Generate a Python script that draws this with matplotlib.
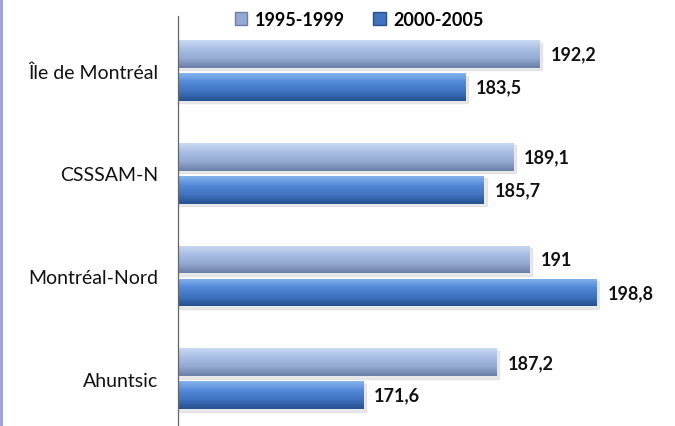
import numpy as np
import matplotlib.pyplot as plt
from matplotlib.patches import Patch
from matplotlib.colors import LinearSegmentedColormap
from matplotlib.lines import Line2D

categories = ["Île de Montréal", "CSSSAM-N", "Montréal-Nord", "Ahuntsic"]
series_names = ["1995-1999", "2000-2005"]
values_1995 = [192.2, 189.1, 191.0, 187.2]
values_2000 = [183.5, 185.7, 198.8, 171.6]
value_labels_1995 = ["192,2", "189,1", "191", "187,2"]
value_labels_2000 = ["183,5", "185,7", "198,8", "171,6"]

plt.rcParams['font.family'] = ['Lato', 'DejaVu Sans']

grad_light = LinearSegmentedColormap.from_list(
    "light", ["#6b7fa8", "#93a9d2", "#a9bee4", "#c9d9f3"])
grad_dark = LinearSegmentedColormap.from_list(
    "dark", ["#27518f", "#3f73c0", "#5289d8", "#86b4ee"])

fig = plt.figure(figsize=(6.75, 4.27), dpi=100)
W, H = 675, 427
ax = fig.add_axes([178 / W, 0, 482 / W, 410 / H])

xmin = 150
ax.set_xlim(xmin, xmin + 482 / 8.57)
ax.set_ylim(3.46, -0.53)

y = np.arange(len(categories))
h = 0.27
off = 0.16


def gradient_bars(ypos, vals, cmap, labels):
    bars = ax.barh(ypos, np.array(vals) - xmin, left=xmin, height=h,
                   color="none", edgecolor="none")
    grad = np.linspace(0, 1, 64).reshape(-1, 1)
    for b, lab in zip(bars, labels):
        x0, y0 = b.get_x(), b.get_y()
        w, hh = b.get_width(), b.get_height()
        # shadow
        ax.add_patch(plt.Rectangle((x0, y0 + 0.025), w + 0.3, hh,
                                   color="#d0d0d0", alpha=0.45, zorder=1))
        im = ax.imshow(grad, cmap=cmap, extent=[x0, x0 + w, y0 + hh, y0],
                       aspect="auto", origin="upper", zorder=2)
        im.set_clip_path(b)
        ax.text(x0 + w + 1.3, y0 + hh / 2, lab, ha="left", va="center",
                fontsize=13, fontweight="bold", color="#111111")


gradient_bars(y - off, values_1995, grad_light.reversed(), value_labels_1995)
gradient_bars(y + off, values_2000, grad_dark.reversed(), value_labels_2000)
ax.set_xlim(xmin, xmin + 482 / 8.57)
ax.set_ylim(3.46, -0.53)

ax.set_yticks(y)
ax.set_yticklabels(categories, fontsize=14, color="#111111")
ax.tick_params(axis="y", length=0, pad=14)
ax.set_xticks([])
for s in ["top", "right", "bottom"]:
    ax.spines[s].set_visible(False)
ax.spines["left"].set_color("#666666")
ax.spines["left"].set_linewidth(0.9)
ax.patch.set_alpha(0)

handles = [Patch(facecolor="#93a9d2", edgecolor="#6b7fa8"),
           Patch(facecolor="#3f73c0", edgecolor="#27518f")]
fig.legend(handles, series_names, loc="center", ncol=2,
           bbox_to_anchor=(359 / W, 1 - 20 / H), frameon=False,
           prop={"size": 13, "weight": "bold"}, handlelength=0.7,
           handleheight=0.7, handletextpad=0.4, columnspacing=1.6)

fig.add_artist(Line2D([1 / W, 1 / W], [0, 1], color="#9a9ae0", lw=2,
                      transform=fig.transFigure))

fig.savefig("out.png", dpi=100)
